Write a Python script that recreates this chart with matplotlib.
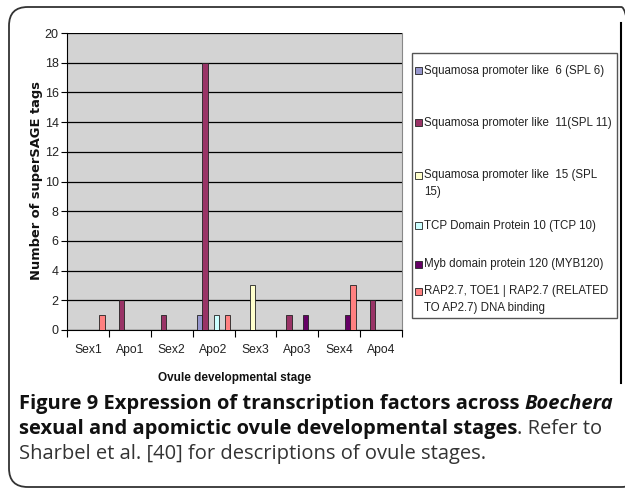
import numpy as np
import matplotlib
matplotlib.use("Agg")
import matplotlib.pyplot as plt
from matplotlib.patches import FancyBboxPatch, Rectangle
from matplotlib.lines import Line2D

# ---- data -------------------------------------------------------------
stages = ["Sex1", "Apo1", "Sex2", "Apo2", "Sex3", "Apo3", "Sex4", "Apo4"]
series_names = [
    "Squamosa promoter like  6 (SPL 6)",
    "Squamosa promoter like  11(SPL 11)",
    "Squamosa promoter like  15 (SPL\n15)",
    "TCP Domain Protein 10 (TCP 10)",
    "Myb domain protein 120 (MYB120)",
    "RAP2.7, TOE1 | RAP2.7 (RELATED\nTO AP2.7) DNA binding",
]
spl6   = [0, 0, 0, 1, 0, 0, 0, 0]
spl11  = [0, 2, 1, 18, 0, 1, 0, 2]
spl15  = [0, 0, 0, 0, 3, 0, 0, 0]
tcp10  = [0, 0, 0, 1, 0, 0, 0, 0]
myb120 = [0, 0, 0, 0, 0, 1, 1, 0]
rap27  = [1, 0, 0, 1, 0, 0, 3, 0]
series_values = [spl6, spl11, spl15, tcp10, myb120, rap27]
colors = ["#9696CC", "#993366", "#FFFFCC", "#CCFFFF", "#660066", "#FF8080"]
yticks = [0, 2, 4, 6, 8, 10, 12, 14, 16, 18, 20]

W, H = 625, 490
fig = plt.figure(figsize=(W / 100, H / 100), dpi=100)
plt.rcParams["font.family"] = ["Liberation Sans", "DejaVu Sans"]

def fx(px):
    return px / W

def fy(py):
    return 1 - py / H

# ---- outer frame ------------------------------------------------------
frame = FancyBboxPatch((fx(9), fy(487)), fx(640) - fx(9), fy(7) - fy(487),
                       boxstyle="round,pad=0,rounding_size=0.03",
                       transform=fig.transFigure, fill=False,
                       edgecolor="#333333", linewidth=1.3, mutation_aspect=W / H)
fig.add_artist(frame)
fig.add_artist(Line2D([fx(621), fx(621)], [fy(23), fy(383)],
                      transform=fig.transFigure, color="black", lw=1.5))

# ---- bar chart --------------------------------------------------------
L, R, T, B = 67, 402, 33, 330
ax = fig.add_axes([fx(L), fy(B), fx(R) - fx(L), fy(T) - fy(B)])
ax.set_facecolor("#D3D3D3")

n = len(series_values)
bw = 1 / 7.5
x = np.arange(len(stages)) + 0.5
for i, (vals, c) in enumerate(zip(series_values, colors)):
    offs = (i - (n - 1) / 2) * bw
    ax.bar(x + offs, vals, width=bw, color=c, edgecolor="#222222",
           linewidth=0.6, zorder=3)

ax.set_xlim(0, len(stages))
ax.set_ylim(0, 20)
ax.set_yticks(yticks)
ax.set_yticklabels([str(v) for v in yticks], fontsize=9, color="#222222")
ax.yaxis.grid(True, color="black", linewidth=0.9, zorder=1)
ax.set_axisbelow(True)

ax.set_xticks(np.arange(len(stages) + 1))
ax.set_xticklabels([])
ax.set_xticks(x, minor=True)
ax.set_xticklabels(stages, minor=True, fontsize=8.7, color="#222222")
ax.tick_params(axis="x", which="minor", length=0, pad=10)
ax.tick_params(axis="x", which="major", length=5, width=0.8, direction="out")
ax.tick_params(axis="y", length=4, width=0.8, direction="out", pad=2)

ax.spines["top"].set_visible(False)
ax.spines["right"].set_color("#888888")
ax.spines["left"].set_color("black")
ax.spines["bottom"].set_color("black")

fig.text(fx(37), fy(181), "Number of superSAGE tags", fontsize=9.4,
         fontweight="bold", family=["DejaVu Sans"], rotation=90,
         ha="center", va="center", color="#111111")
fig.text(fx(235), fy(378), "Ovule developmental stage", fontsize=8.5,
         fontweight="bold", ha="center", va="center", color="#111111")

# ---- legend -----------------------------------------------------------
fig.add_artist(Rectangle((fx(412), fy(318)), fx(617) - fx(412), fy(53) - fy(318),
                         transform=fig.transFigure, fill=True,
                         facecolor="white", edgecolor="#555555", lw=1.0))
entry_y = [71, 123, 175, 226, 264, 291]
for name, c, yy in zip(series_names, colors, entry_y):
    fig.add_artist(Rectangle((fx(415), fy(yy + 3.5)), fx(7), fy(0) - fy(7),
                             transform=fig.transFigure, facecolor=c,
                             edgecolor="#222222", lw=0.6))
    for k, line in enumerate(name.split("\n")):
        fig.text(fx(424), fy(yy + 16.5 * k), line, fontsize=8.3, va="center",
                 ha="left", color="#222222")

# ---- caption ----------------------------------------------------------
cap_font = ["Open Sans", "DejaVu Sans"]
renderer = fig.canvas.get_renderer()

def draw_line(segments, px_x, px_y, size):
    xpos = px_x
    for txt, weight, style, col in segments:
        t = fig.text(fx(xpos), fy(px_y), txt, fontsize=size, fontweight=weight,
                     fontstyle=style, color=col, family=cap_font,
                     va="baseline", ha="left")
        bb = t.get_window_extent(renderer=renderer)
        xpos += bb.width
    return xpos

cs = 14.5
draw_line([("Figure 9 Expression of transcription factors across ", "bold", "normal", "#111111"),
           ("Boechera", "bold", "italic", "#111111")], 19, 409, cs)
draw_line([("sexual and apomictic ovule developmental stages", "bold", "normal", "#111111"),
           (". Refer to", "normal", "normal", "#333333")], 19, 434, cs)
draw_line([("Sharbel et al. [40] for descriptions of ovule stages.", "normal", "normal", "#333333")],
          19, 459, cs)

fig.savefig("out.png", dpi=100)
